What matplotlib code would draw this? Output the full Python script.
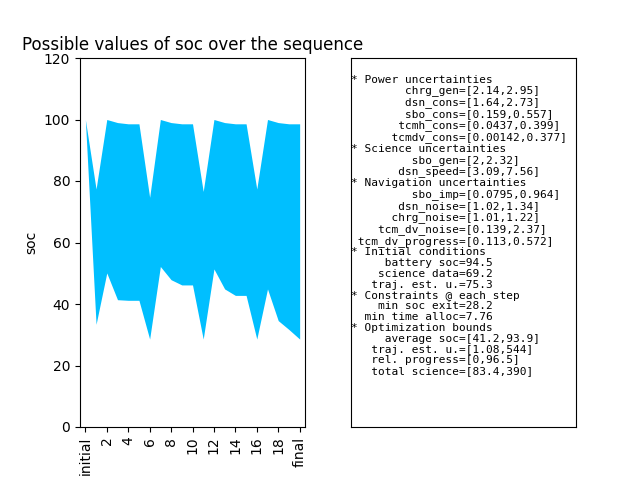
import numpy as np
import matplotlib.pyplot as plt

steps = np.arange(21)
tick_pos = np.arange(0, 21, 2)
tick_labels = ['initial', '2', '4', '6', '8', '10', '12', '14', '16', '18', 'final']
soc_max = [100, 77.4, 100, 99, 98.6, 98.6, 74.7, 100, 99, 98.6, 98.6,
           76.6, 100, 99, 98.6, 98.6, 77.4, 100, 99, 98.6, 98.6]
soc_min = [100, 33.4, 50.1, 41.4, 41.2, 41.2, 28.6, 52.2, 47.9, 46.2, 46.2,
           28.6, 51.4, 44.9, 42.8, 42.8, 28.6, 44.9, 34.6, 31.7, 28.6]

info = """* Power uncertainties
        chrg_gen=[2.14,2.95]
        dsn_cons=[1.64,2.73]
        sbo_cons=[0.159,0.557]
       tcmh_cons=[0.0437,0.399]
      tcmdv_cons=[0.00142,0.377]
* Science uncertainties
         sbo_gen=[2,2.32]
       dsn_speed=[3.09,7.56]
* Navigation uncertainties
         sbo_imp=[0.0795,0.964]
       dsn_noise=[1.02,1.34]
      chrg_noise=[1.01,1.22]
    tcm_dv_noise=[0.139,2.37]
 tcm_dv_progress=[0.113,0.572]
* Initial conditions
     battery soc=94.5
    science data=69.2
   traj. est. u.=75.3
* Constraints @ each step
    min soc exit=28.2
  min time alloc=7.76
* Optimization bounds
     average soc=[41.2,93.9]
   traj. est. u.=[1.08,544]
   rel. progress=[0,96.5]
   total science=[83.4,390]"""

fig = plt.figure(figsize=(6.4, 4.8), dpi=100)
ax = fig.add_axes([80/640, 53/480, 225/640, 369/480])
ax.fill_between(steps, soc_min, soc_max, color='deepskyblue', linewidth=0)
ax.set_ylim(0, 120)
ax.set_xlim(-0.5, 20.5)
ax.set_xticks(tick_pos)
ax.set_xticklabels(tick_labels, rotation=90)
ax.set_ylabel('soc')
ax.set_title('Possible values of soc over the sequence')

ax2 = fig.add_axes([351/640, 53/480, 225/640, 369/480])
ax2.set_xticks([])
ax2.set_yticks([])
ax2.text(0, 0.955, info, transform=ax2.transAxes, family='DejaVu Sans Mono',
         fontsize=8, va='top', ha='left', linespacing=1.1)

fig.savefig('out.png', dpi=100)
